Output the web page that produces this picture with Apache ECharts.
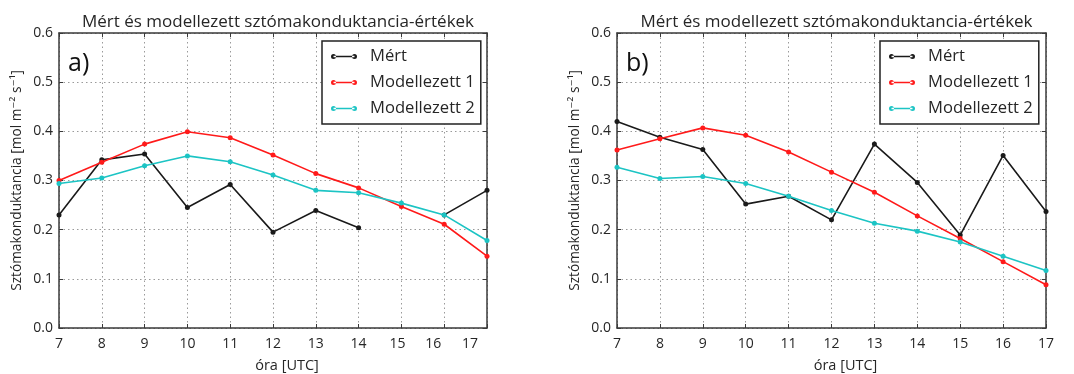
<!DOCTYPE html>
<html>
<head>
<meta charset="utf-8">
<script src="https://cdn.jsdelivr.net/npm/echarts@6/dist/echarts.min.js"></script>
<style>
  html, body { margin: 0; padding: 0; background: #fff; }
  #chart { width: 1074px; height: 374px; }
</style>
</head>
<body>
<div id="chart"></div>
<script>
// Hours of the day (UTC)
const hours = [7, 8, 9, 10, 11, 12, 13, 14, 15, 16, 17];
const yTicks = [0.0, 0.1, 0.2, 0.3, 0.4, 0.5, 0.6];

// Panel a) stomatal conductance [mol m-2 s-1]
const aMert  = [0.230, 0.342, 0.354, 0.245, 0.292, 0.195, 0.239, 0.204, null, 0.230, 0.280];
const aModel1 = [0.300, 0.337, 0.374, 0.399, 0.387, 0.352, 0.314, 0.285, 0.247, 0.211, 0.146];
const aModel2 = [0.294, 0.305, 0.330, 0.350, 0.338, 0.311, 0.280, 0.275, 0.254, 0.230, 0.178];

// Panel b)
const bMert  = [0.420, 0.388, 0.363, 0.252, 0.268, 0.220, 0.374, 0.296, 0.189, 0.351, 0.237];
const bModel1 = [0.362, 0.385, 0.407, 0.392, 0.358, 0.317, 0.276, 0.228, 0.182, 0.135, 0.088];
const bModel2 = [0.327, 0.304, 0.308, 0.294, 0.268, 0.239, 0.213, 0.197, 0.175, 0.146, 0.117];

const seriesNames = ['Mért', 'Modellezett 1', 'Modellezett 2'];
const seriesColors = ['#1a1a1a', '#ff1a1a', '#1cc4c4'];
const titleText = 'Mért és modellezett sztómakonduktancia-értékek';
const panelLabels = ['a)', 'b)'];

const FONT = '"Open Sans", "DejaVu Sans", sans-serif';
const TXT = '#262626';
const FRAME = '#3a3a3a';

// legend key: short line with a dot at each end
const KEY_ICON = 'path://M0,2.5A2.5,2.5,0,1,0,5,2.5A2.5,2.5,0,1,0,0,2.5Z' +
  'M21,2.5A2.5,2.5,0,1,0,26,2.5A2.5,2.5,0,1,0,21,2.5Z' +
  'M2.5,1.7L23.5,1.7L23.5,3.3L2.5,3.3Z';

const grids = [
  { left: 59, top: 33, width: 428, height: 295, outerBoundsMode: 'none', containLabel: false },
  { left: 617, top: 33, width: 429, height: 295, outerBoundsMode: 'none', containLabel: false }
];

// the last hour labels of panel a) sit a little left of their ticks
const aLabelShift = { 15: 8, 16: 22, 17: 34 };
const aRich = {};
Object.keys(aLabelShift).forEach(k => {
  aRich['h' + k] = { fontFamily: FONT, fontSize: 14, color: TXT, padding: [0, aLabelShift[k], 0, 0] };
});

const pairs = vals => hours.map((h, i) => [h, vals[i]]);

const xAxes = [], yAxes = [], series = [], legends = [], titles = [];

grids.forEach((g, gi) => {
  xAxes.push({
    gridIndex: gi, type: 'value', min: 7, max: 17, interval: 1, position: 'bottom',
    name: 'óra [UTC]', nameLocation: 'middle', nameGap: 30,
    nameTextStyle: { fontFamily: FONT, fontSize: 14.5, color: TXT, padding: [0, 0, 0, 28] },
    axisLine: { show: true, onZero: false, lineStyle: { color: FRAME, width: 1.5 } },
    axisTick: { show: true, inside: true, length: 4, lineStyle: { color: FRAME } },
    axisLabel: {
      fontFamily: FONT, fontSize: 14, color: TXT, margin: 9,
      formatter: v => (gi === 0 && aLabelShift[v] !== undefined) ? '{h' + v + '|' + v + '}' : String(v),
      rich: gi === 0 ? aRich : {}
    },
    splitLine: { show: true, lineStyle: { color: '#9a9a9a', type: [1.5, 3], width: 1 } }
  });
  // top spine
  xAxes.push({
    gridIndex: gi, type: 'value', min: 7, max: 17, interval: 1, position: 'top',
    axisLine: { show: true, onZero: false, lineStyle: { color: FRAME, width: 1.5 } },
    axisTick: { show: true, inside: true, length: 4, lineStyle: { color: FRAME } },
    axisLabel: { show: false }, splitLine: { show: false }
  });
  yAxes.push({
    gridIndex: gi, type: 'value', min: 0, max: 0.6, interval: 0.1, position: 'left',
    name: 'Sztómakonduktancia [mol m⁻² s⁻¹]', nameLocation: 'middle', nameGap: 35,
    nameTextStyle: { fontFamily: FONT, fontSize: 13.7, color: TXT },
    axisLine: { show: true, onZero: false, lineStyle: { color: FRAME, width: 1.5 } },
    axisTick: { show: true, inside: true, length: 4, lineStyle: { color: FRAME } },
    axisLabel: { fontFamily: FONT, fontSize: 14, color: TXT, margin: 6,
      formatter: v => yTicks.find(t => Math.abs(t - v) < 1e-9).toFixed(1) },
    splitLine: { show: true, lineStyle: { color: '#9a9a9a', type: [1.5, 3], width: 1 } }
  });
  // right spine
  yAxes.push({
    gridIndex: gi, type: 'value', min: 0, max: 0.6, interval: 0.1, position: 'right',
    axisLine: { show: true, onZero: false, lineStyle: { color: FRAME, width: 1.5 } },
    axisTick: { show: true, inside: true, length: 4, lineStyle: { color: FRAME } },
    axisLabel: { show: false }, splitLine: { show: false }
  });

  const data = gi === 0 ? [aMert, aModel1, aModel2] : [bMert, bModel1, bModel2];
  data.forEach((vals, si) => {
    series.push({
      name: seriesNames[si], type: 'line',
      xAxisIndex: gi * 2, yAxisIndex: gi * 2,
      data: pairs(vals), connectNulls: false,
      symbol: 'circle', symbolSize: 5, showSymbol: true,
      lineStyle: { color: seriesColors[si], width: 1.6 },
      itemStyle: { color: seriesColors[si] },
      z: 3 + si,
      animation: false
    });
  });

  legends.push({
    data: seriesNames.map(n => ({ name: n, icon: KEY_ICON })),
    orient: 'vertical',
    left: g.left + 263, top: 41,
    itemWidth: 26, itemHeight: 5, itemGap: 9,
    backgroundColor: '#fff', borderColor: '#222', borderWidth: 1.5, borderRadius: 0,
    padding: [7, 6, 7, 9],
    textStyle: { fontFamily: FONT, fontSize: 16.6, color: TXT, padding: [0, 0, 0, 8], lineHeight: 17 },
    selectedMode: false
  });

  titles.push({
    text: titleText, left: g.left + g.width / 2, top: 9, textAlign: 'center',
    textStyle: { fontFamily: FONT, fontSize: 17, fontWeight: 'normal', color: TXT }
  });
  titles.push({
    text: panelLabels[gi], left: g.left + 4, top: 46,
    textStyle: { fontFamily: FONT, fontSize: 25, fontWeight: 'normal', color: '#111' }
  });
});

const chart = echarts.init(document.getElementById('chart'), null, { renderer: 'canvas' });
chart.setOption({
  backgroundColor: '#fff',
  animation: false,
  title: titles,
  legend: legends,
  grid: grids,
  xAxis: xAxes,
  yAxis: yAxes,
  series: series
});
</script>
</body>
</html>
